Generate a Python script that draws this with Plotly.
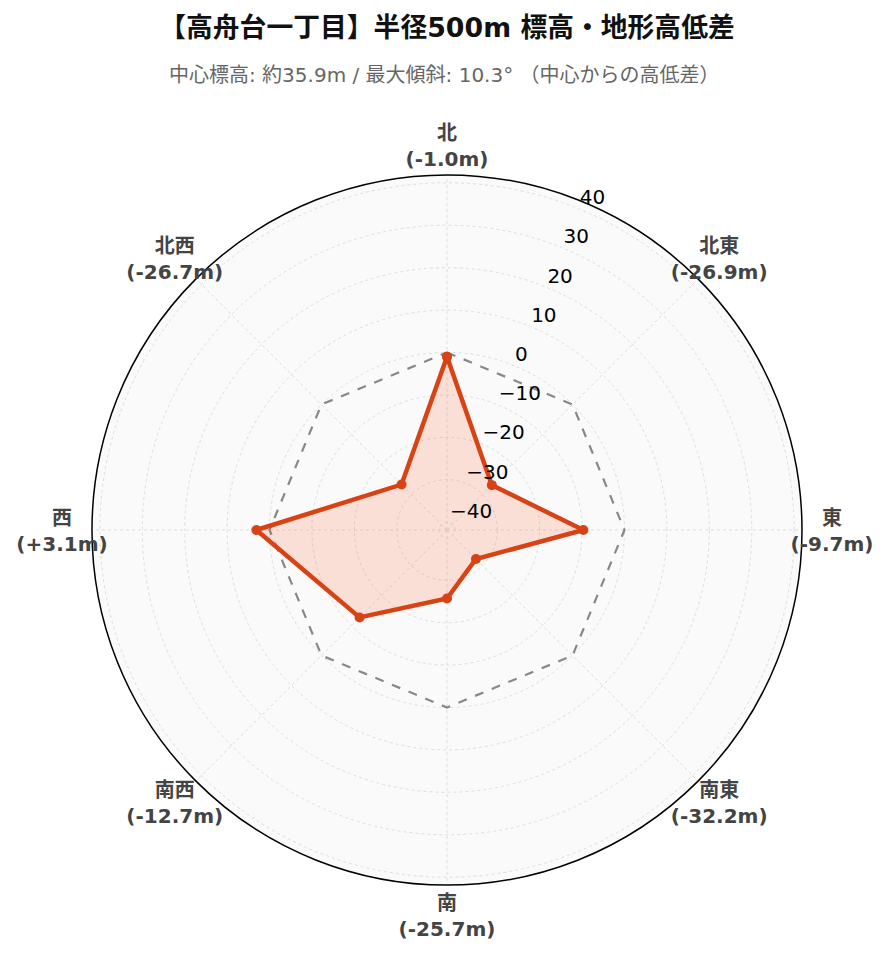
import plotly.graph_objects as go

directions = ["北", "北東", "東", "南東", "南", "南西", "西", "北西"]
angles = [0, 45, 90, 135, 180, 225, 270, 315]
diffs = [-1.0, -26.9, -9.7, -32.2, -25.7, -12.7, 3.1, -26.7]
radial_ticks = [-40, -30, -20, -10, 0, 10, 20, 30, 40]
radial_tick_bearing = 22.5  # radial axis drawn at 67.5° (math angle)

title_text = "【高舟台一丁目】半径500m 標高・地形高低差"
subtitle_text = "中心標高: 約35.9m / 最大傾斜: 10.3° （中心からの高低差）"

tick_text = [f"<b>{d}<br>({v:+.1f}m)</b>" if v > 0 else f"<b>{d}<br>({v:.1f}m)</b>"
             for d, v in zip(directions, diffs)]
radial_tick_text = [str(v).replace("-", "\u2212") for v in radial_ticks]

rmax = max(abs(v) for v in diffs) * 1.3
label_r = rmax * 1.169
label_rmax = label_r + 2.0

theta_closed = angles + [angles[0]]
r_closed = diffs + [diffs[0]]
zero_closed = [0] * len(theta_closed)

W, H = 889, 962
FONT = "DejaVu Sans, Noto Sans CJK JP, sans-serif"

# polar geometry (figure pixels)
CX, CY = 439, 522
RAD = 355
RAD2 = RAD * (label_rmax + rmax) / (2 * rmax)


def dom(cx, cy, rad):
    return dict(x=[(cx - rad) / W, (cx + rad) / W],
                y=[(H - cy - rad) / H, (H - cy + rad) / H])


fig = go.Figure()
fig.add_trace(go.Scatterpolar(
    r=zero_closed, theta=theta_closed, mode="lines",
    line=dict(color="#888888", width=2.2, dash="dash"),
    hoverinfo="skip", showlegend=False,
))
fig.add_trace(go.Scatterpolar(
    r=r_closed, theta=theta_closed, mode="lines+markers",
    line=dict(color="#D84315", width=4.5),
    marker=dict(color="#D84315", size=10),
    fill="toself", fillcolor="rgba(255,87,34,0.16)",
    showlegend=False,
))
fig.add_trace(go.Scatterpolar(
    r=radial_ticks, theta=[radial_tick_bearing] * len(radial_ticks), mode="text",
    text=radial_tick_text, textposition="top right",
    textfont=dict(family=FONT, size=20, color="black"),
    cliponaxis=False, hoverinfo="skip", showlegend=False,
))
fig.add_trace(go.Scatterpolar(
    r=[label_r] * len(angles), theta=angles, mode="text",
    text=tick_text, textposition="middle center",
    textfont=dict(family=FONT, size=20, color="#444444"),
    cliponaxis=False, hoverinfo="skip", showlegend=False,
    subplot="polar2",
))

fig.update_layout(
    width=W, height=H,
    paper_bgcolor="white",
    font=dict(family=FONT),
    margin=dict(l=0, r=0, t=0, b=0, autoexpand=False),
    title=dict(
        text=f"<b>{title_text}</b>",
        x=439 / W, xanchor="center", y=1 - 20 / H, yanchor="middle", yref="container",
        font=dict(family=FONT, size=26.8, color="#111111"),
    ),
    annotations=[dict(
        text=subtitle_text, xref="paper", yref="paper",
        x=436.5 / W, y=1 - 67 / H, xanchor="center", yanchor="middle", showarrow=False,
        font=dict(family=FONT, size=20, color="#666666"),
    )],
    polar=dict(
        domain=dom(CX, CY, RAD),
        bgcolor="#fafafa",
        angularaxis=dict(
            rotation=90, direction="clockwise",
            tickmode="array", tickvals=angles, showticklabels=False,
            showline=True, linecolor="black", linewidth=1.5,
            gridcolor="#dddddd", griddash="dot", ticks="",
        ),
        radialaxis=dict(
            range=[-rmax, rmax], tickmode="array", tickvals=radial_ticks,
            angle=67.5, showticklabels=False,
            showline=False, gridcolor="#dddddd", griddash="dot", ticks="",
        ),
    ),
    polar2=dict(
        domain=dom(CX, CY + 3, RAD2),
        bgcolor="rgba(0,0,0,0)",
        angularaxis=dict(rotation=90, direction="clockwise", visible=False),
        radialaxis=dict(range=[-rmax, label_rmax], visible=False),
    ),
)

fig.write_html("out.html")
